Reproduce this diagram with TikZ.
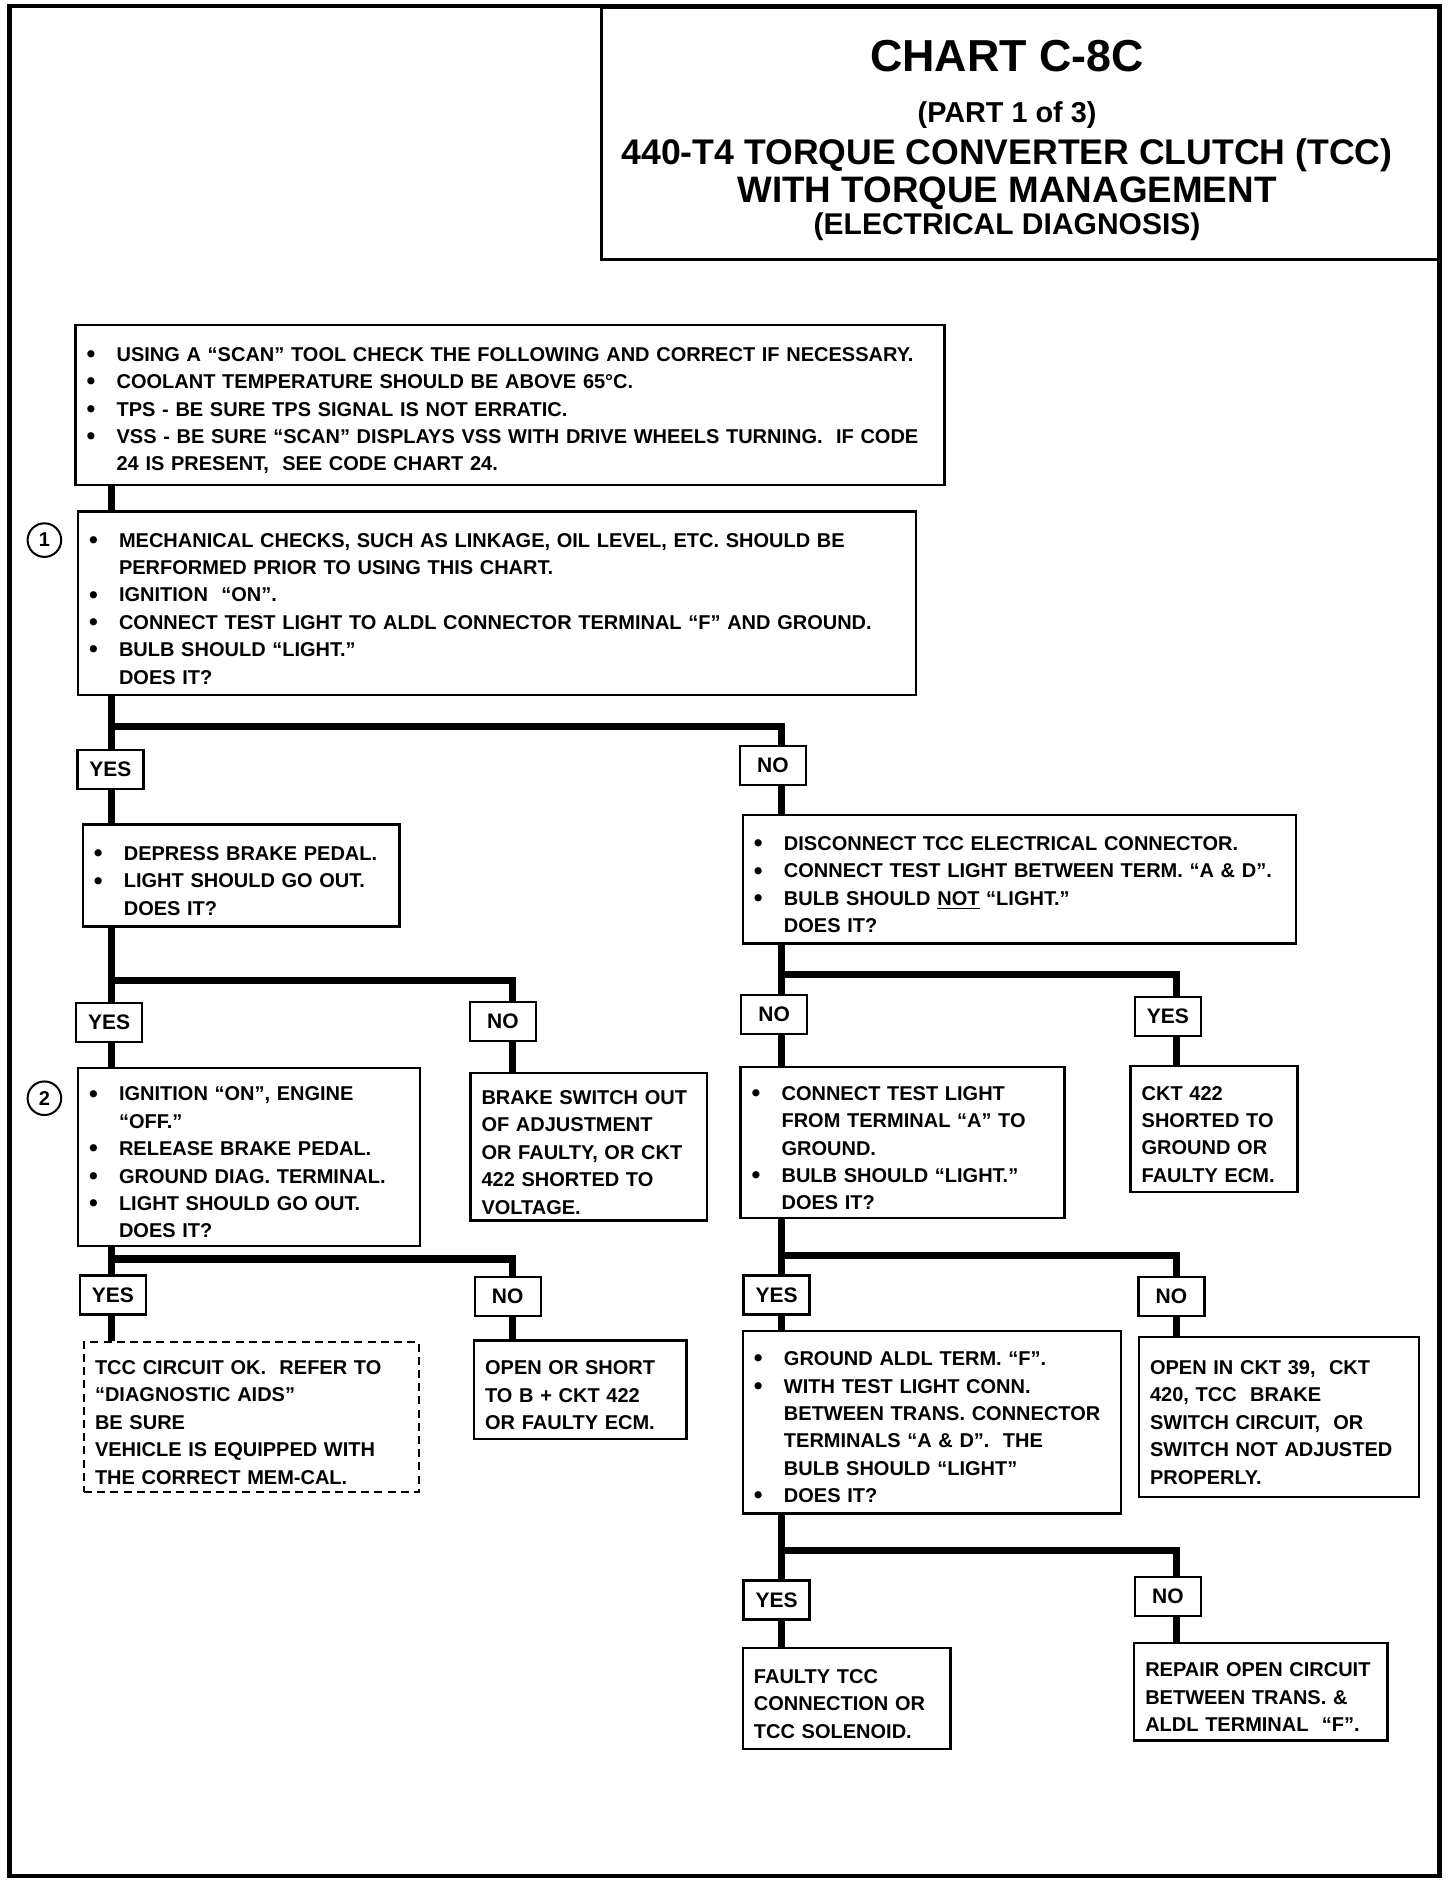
\documentclass[tikz,border=0pt]{standalone}
\usepackage{fontspec}
\setmainfont{Liberation Sans}
\newcommand{\bl}{\makebox[15pt][l]{\raisebox{-0.6pt}{\fontsize{12.5pt}{0pt}\selectfont •}}}
\newcommand{\ind}{\hspace*{15pt}}

\begin{document}
\begin{tikzpicture}[x=0.6pt, y=-0.6pt,
    box/.style={draw, line width=1.2pt, anchor=north west, align=left, inner xsep=5.5pt, inner ysep=0pt,
        font=\fontsize{10pt}{13.7pt}\selectfont\bfseries, execute at begin node={\rule{0pt}{12.5pt}}},
    dbox/.style={box, dash pattern=on 4pt off 2.6pt},
    lab/.style={draw, line width=1.2pt, minimum width=33pt, minimum height=19.5pt, inner sep=0pt, font=\fontsize{10.5pt}{12pt}\selectfont\bfseries},
    numc/.style={circle, draw, line width=1pt, minimum size=16.8pt, inner sep=0pt, font=\fontsize{10pt}{12pt}\selectfont\bfseries},
    ttl/.style={anchor=base},
    flow/.style={line width=3.6pt},
]
    \useasboundingbox (0,0) rectangle (1213,1568);
    \draw[line width=2.4pt] (8,5) rectangle (1199,1563);

    % title block
    \node[draw, line width=1.5pt, anchor=north west, minimum width=419.4pt, minimum height=126pt] (titlebox) at (500,5) {};
    \node[ttl, font=\fontsize{22.4pt}{24pt}\selectfont\bfseries] (t1) at (839,59.5) {CHART C-8C};
    \node[ttl, font=\fontsize{14.4pt}{16pt}\selectfont\bfseries] (t2) at (839,102) {(PART 1 of 3)};
    \node[ttl, font=\fontsize{17.8pt}{20pt}\selectfont\bfseries] (t3) at (839,137) {440-T4 TORQUE CONVERTER CLUTCH (TCC)};
    \node[ttl, font=\fontsize{18.4pt}{20pt}\selectfont\bfseries] (t4) at (839,168.5) {WITH TORQUE MANAGEMENT};
    \node[ttl, font=\fontsize{15pt}{17pt}\selectfont\bfseries] (t5) at (839,195) {(ELECTRICAL DIAGNOSIS)};

    % columns of the flow lines
    \coordinate (colL) at (93,0);
    \coordinate (colLn) at (427,0);
    \coordinate (colR) at (651,0);
    \coordinate (colRn) at (980,0);

    % check boxes
    \node[box, text width=423.4pt, minimum height=79.8pt] (scan) at (62,270) {\bl USING A “SCAN” TOOL CHECK THE FOLLOWING AND CORRECT IF NECESSARY.\\
        \bl COOLANT TEMPERATURE SHOULD BE ABOVE 65°C.\\
        \bl TPS - BE SURE TPS SIGNAL IS NOT ERRATIC.\\
        \bl VSS - BE SURE “SCAN” DISPLAYS VSS WITH DRIVE WHEELS TURNING.\ \ IF CODE\\
        \ind 24 IS PRESENT,\ \ SEE CODE CHART 24.};
    \node[box, text width=407.8pt, minimum height=91.8pt] (mech) at (64,425) {\bl MECHANICAL CHECKS, SUCH AS LINKAGE, OIL LEVEL, ETC. SHOULD BE\\
        \ind PERFORMED PRIOR TO USING THIS CHART.\\
        \bl IGNITION\ \ “ON”.\\
        \bl CONNECT TEST LIGHT TO ALDL CONNECTOR TERMINAL “F” AND GROUND.\\
        \bl BULB SHOULD “LIGHT.”\\
        \ind DOES IT?};
    \node[numc] (n1) at (37,450) {1};
    \node[box, text width=147.4pt, minimum height=51pt] (brake) at (68,686) {\bl DEPRESS BRAKE PEDAL.\\
        \bl LIGHT SHOULD GO OUT.\\
        \ind DOES IT?};
    \node[box, text width=265.6pt, minimum height=64.2pt] (disc) at (618,678) {\bl DISCONNECT TCC ELECTRICAL CONNECTOR.\\
        \bl CONNECT TEST LIGHT BETWEEN TERM. “A \& D”.\\
        \bl BULB SHOULD \underline{NOT} “LIGHT.”\\
        \ind DOES IT?};
    \node[box, text width=160pt, minimum height=88.8pt] (ign) at (64,889) {\bl IGNITION “ON”, ENGINE\\
        \ind “OFF.”\\
        \bl RELEASE BRAKE PEDAL.\\
        \bl GROUND DIAG. TERMINAL.\\
        \bl LIGHT SHOULD GO OUT.\\
        \ind DOES IT?};
    \node[numc] (n2) at (37,915) {2};
    \node[box, text width=107.2pt, minimum height=73.8pt] (bsw) at (391,893) {BRAKE SWITCH OUT\\
        OF ADJUSTMENT\\
        OR FAULTY, OR CKT\\
        422 SHORTED TO\\
        VOLTAGE.};
    \node[box, text width=151pt, minimum height=75.6pt] (term) at (616,888) {\bl CONNECT TEST LIGHT\\
        \ind FROM TERMINAL “A” TO\\
        \ind GROUND.\\
        \bl BULB SHOULD “LIGHT.”\\
        \ind DOES IT?};
    \node[box, text width=72.4pt, minimum height=63pt] (ckt) at (941,887) {CKT 422\\
        SHORTED TO\\
        GROUND OR\\
        FAULTY ECM.};
    \node[dbox, text width=156.4pt, minimum height=75pt] (ok) at (69,1117) {TCC CIRCUIT OK.\ \ REFER TO\\
        “DIAGNOSTIC AIDS”\\
        BE SURE\\
        VEHICLE IS EQUIPPED WITH\\
        THE CORRECT MEM-CAL.};
    \node[box, text width=95.2pt, minimum height=49.2pt] (open) at (394,1116) {OPEN OR SHORT\\
        TO B + CKT 422\\
        OR FAULTY ECM.};
    \node[box, text width=178pt, minimum height=91.2pt] (gnd) at (618,1108) {\bl GROUND ALDL TERM. “F”.\\
        \bl WITH TEST LIGHT CONN.\\
        \ind BETWEEN TRANS. CONNECTOR\\
        \ind TERMINALS “A \& D”.\ \ THE\\
        \ind BULB SHOULD “LIGHT”\\
        \bl DOES IT?};
    \node[box, text width=128.8pt, minimum height=79.8pt] (opencir) at (948,1113) {OPEN IN CKT 39,\ \ CKT\\
        420, TCC\ \ BRAKE\\
        SWITCH CIRCUIT,\ \ OR\\
        SWITCH NOT ADJUSTED\\
        PROPERLY.};
    \node[box, text width=92.8pt, minimum height=50.4pt] (faulty) at (618,1372) {FAULTY TCC\\
        CONNECTION OR\\
        TCC SOLENOID.};
    \node[box, text width=115.6pt, minimum height=48.6pt] (repair) at (944,1368) {REPAIR OPEN CIRCUIT\\
        BETWEEN TRANS. \&\\
        ALDL TERMINAL\ \ “F”.};

    % answer labels
    \node[lab] (yes1) at (92,641) {YES};
    \node[lab] (no1) at (644,638) {NO};
    \node[lab] (yes2) at (91,852) {YES};
    \node[lab] (no2) at (419,851) {NO};
    \node[lab] (no3) at (645,845) {NO};
    \node[lab] (yes3) at (973,847) {YES};
    \node[lab] (yes4) at (94,1079) {YES};
    \node[lab] (no4) at (423,1080) {NO};
    \node[lab] (yes5) at (647,1079) {YES};
    \node[lab] (no5) at (976,1080) {NO};
    \node[lab] (yes6) at (647,1333) {YES};
    \node[lab] (no6) at (973,1330) {NO};

    % flow lines
    \draw[flow] (scan.south -| colL) -- (mech.north -| colL);
    \draw[flow] (mech.south -| colL) -- (yes1.north -| colL);
    \draw[flow] (mech.south -| colL) -- ++(0,25) -| (no1.north -| colR);
    \draw[flow] (brake.south -| colL) -- (yes2.north -| colL);
    \draw[flow] (brake.south -| colL) -- ++(0,44) -| (no2.north -| colLn);
    \draw[flow] (disc.south -| colR) -- (no3.north -| colR);
    \draw[flow] (disc.south -| colR) -- ++(0,25) -| (yes3.north -| colRn);
    \draw[flow] (ign.south -| colL) -- (yes4.north -| colL);
    \draw[flow] (ign.south -| colL) -- ++(0,10) -| (no4.north -| colLn);
    \draw[flow] (term.south -| colR) -- (yes5.north -| colR);
    \draw[flow] (term.south -| colR) -- ++(0,30) -| (no5.north -| colRn);
    \draw[flow] (gnd.south -| colR) -- (yes6.north -| colR);
    \draw[flow] (gnd.south -| colR) -- ++(0,30) -| (no6.north -| colRn);
    \foreach \a/\b/\c in {yes1/brake/colL, no1/disc/colR, yes2/ign/colL, no2/bsw/colLn,
        no3/term/colR, yes3/ckt/colRn, yes4/ok/colL, no4/open/colLn,
        yes5/gnd/colR, no5/opencir/colRn, yes6/faulty/colR, no6/repair/colRn}
        \draw[flow] (\a.south -| \c) -- (\b.north -| \c);
\end{tikzpicture}
\end{document}
